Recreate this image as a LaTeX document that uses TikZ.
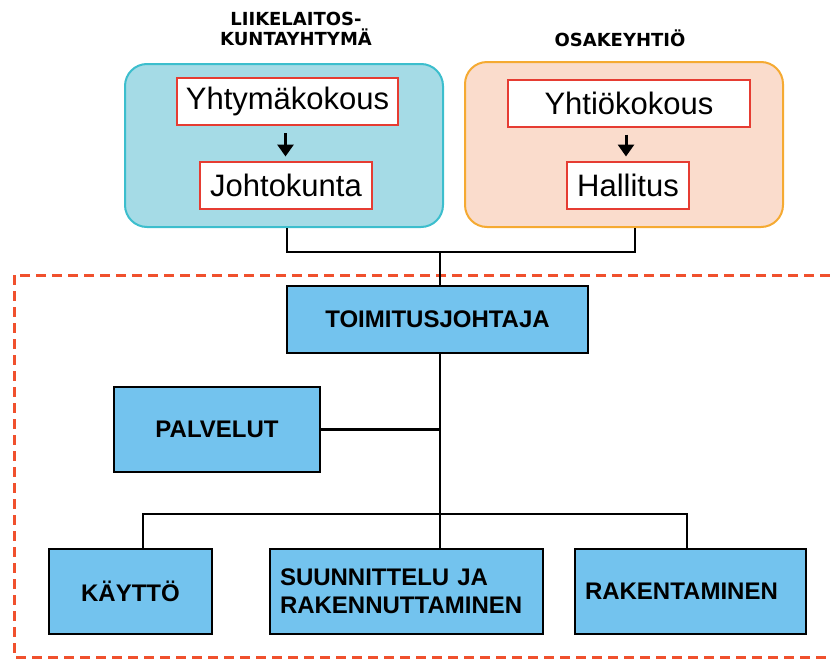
\documentclass[tikz,border=0pt]{standalone}
\usepackage{fontspec}
\setmainfont{Liberation Sans}
\newfontfamily\headfont{DejaVu Sans}
\usetikzlibrary{positioning,arrows.meta}
\definecolor{unitblue}{RGB}{115,195,238}
\definecolor{cyanfill}{RGB}{165,219,230}
\definecolor{cyanline}{RGB}{60,190,205}
\definecolor{peachfill}{RGB}{250,220,204}
\definecolor{peachline}{RGB}{245,170,50}
\definecolor{boxred}{RGB}{230,60,50}
\definecolor{dashred}{RGB}{240,80,45}
\begin{document}
\begin{tikzpicture}[x=1pt,y=-1pt,
    group/.style={rounded corners=22pt, line width=2pt, minimum width=318pt, minimum height=163pt},
    organ/.style={draw=boxred, fill=white, line width=2pt, minimum height=47pt, font=\fontsize{31}{36}\selectfont},
    unit/.style={draw=black, fill=unitblue, line width=2pt, minimum height=85pt, font=\fontsize{24}{28}\selectfont\bfseries},
    heading/.style={align=center, font=\fontsize{18}{20}\selectfont\headfont\bfseries},
    link/.style={line width=2.2pt},
    down/.style={line width=3pt, -{Triangle[width=16pt,length=12pt]}, shorten <=7pt, shorten >=4pt}]
    \useasboundingbox (0,0) rectangle (830,659);
    % the two owner forms
    \node[group, draw=cyanline, fill=cyanfill](lbox) at (284,145.5){};
    \node[group, draw=peachline, fill=peachfill, minimum height=165pt](rbox) at (624,144.5){};
    \node[heading](lhead) at (296,29){LIIKELAITOS-\\KUNTAYHTYMÄ};
    \node[heading](rhead) at (620,38){OSAKEYHTIÖ};
    \node[organ, minimum width=221pt](lmeet) at (287.5,101.5){Yhtymäkokous};
    \node[organ, minimum width=172pt](lboard) at (286,185){Johtokunta};
    \node[organ, minimum width=242pt](rmeet) at (629,103){Yhtiökokous};
    \node[organ, minimum width=122pt](rboard) at (628,185){Hallitus};
    \draw[down] ([xshift=-2pt]lmeet.south) -- ([xshift=-2pt]lmeet.south |- lboard.north);
    \draw[down] ([xshift=-3pt]rmeet.south) -- ([xshift=-3pt]rmeet.south |- rboard.north);
    % the company itself
    \draw[dashred, line width=3pt, dash pattern=on 10pt off 6pt] (830,275) -- (14,275) -- (14,657) -- (830,657);
    \node[unit, minimum width=301pt, minimum height=67pt](ceo) at (437.5,319){TOIMITUSJOHTAJA};
    \node[unit, minimum width=206pt](serv) at (217,429.5){PALVELUT};
    \node[unit, minimum width=163pt](use) at (130.5,591.5){KÄYTTÖ};
    \node[unit, minimum width=273pt, text width=253pt, align=left](plan) at (406.5,591.5){SUUNNITTELU JA\\RAKENNUTTAMINEN};
    \node[unit, minimum width=231pt, text width=211pt, align=left](build) at (690.5,591.5){RAKENTAMINEN};
    \coordinate (top) at (440,252);
    \coordinate (bus) at (440,514);
    \draw[link] ([xshift=3pt]lbox.south) |- (top) -| ([xshift=11pt]rbox.south);
    \draw[link] (top) -- (top |- ceo.north);
    \draw[link] (top |- ceo.south) -- (bus);
    \draw[link] (serv.east) -- (serv.east -| bus);
    \draw[link] ([xshift=12.5pt]use.north) |- (bus) -| ([xshift=-3.5pt]build.north);
    \draw[link] (bus) -- (bus |- plan.north);
\end{tikzpicture}
\end{document}
